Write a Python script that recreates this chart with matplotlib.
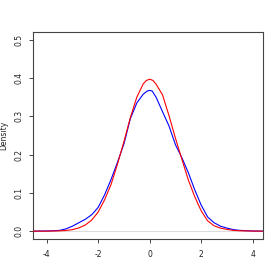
import matplotlib
matplotlib.use('Agg')
import matplotlib.pyplot as plt

# values
x_red = [-4.6, -4.0, -3.5, -3.25, -3.0, -2.75, -2.5, -2.25, -2.0, -1.75, -1.5, -1.25, -1.0,
         -0.75, -0.5, -0.25, -0.125, 0.0, 0.125, 0.25, 0.5, 0.75, 1.0, 1.25, 1.5, 1.75, 2.0,
         2.25, 2.5, 2.75, 3.0, 3.25, 3.5, 4.0, 4.5]
y_red = [0.0, 0.0001, 0.0008, 0.0018, 0.004, 0.0085, 0.016, 0.029, 0.050, 0.082, 0.122, 0.175, 0.234,
         0.297, 0.350, 0.385, 0.394, 0.397, 0.394, 0.384, 0.356, 0.302, 0.243, 0.188, 0.134, 0.090, 0.053,
         0.027, 0.014, 0.008, 0.0045, 0.002, 0.001, 0.0002, 0.0]

x_blue = [-4.6, -4.0, -3.75, -3.5, -3.25, -3.0, -2.75, -2.5, -2.25, -2.0, -1.75, -1.5, -1.25, -1.0,
          -0.75, -0.5, -0.25, -0.1, 0.0, 0.1, 0.25, 0.5, 0.75, 1.0, 1.25, 1.5, 1.75, 2.0,
          2.25, 2.5, 2.75, 3.0, 3.25, 3.5, 4.0, 4.5]
y_blue = [0.0, 0.0005, 0.001, 0.002, 0.006, 0.013, 0.022, 0.031, 0.043, 0.062, 0.095, 0.135, 0.180, 0.228,
          0.294, 0.335, 0.358, 0.366, 0.368, 0.366, 0.350, 0.312, 0.275, 0.226, 0.192, 0.153, 0.108, 0.068,
          0.037, 0.022, 0.013, 0.008, 0.004, 0.002, 0.0005, 0.0]

x_ticks = [-4, -2, 0, 2, 4]
y_ticks = [0.0, 0.1, 0.2, 0.3, 0.4, 0.5]

fig = plt.figure(figsize=(2.8, 2.8), dpi=100)
ax = fig.add_axes([33 / 280, 41 / 280, 230 / 280, 207 / 280])

ax.axhline(0, color='#dddddd', lw=0.8, zorder=1)
ax.plot(x_blue, y_blue, color='#0000ff', lw=0.8, zorder=2)
ax.plot(x_red, y_red, color='#ff0000', lw=0.8, zorder=3)

ax.set_xlim(-4.53, 4.4)
ax.set_ylim(-0.0205, 0.5205)
ax.set_xticks(x_ticks)
ax.set_xticklabels([str(v) for v in x_ticks])
ax.set_yticks(y_ticks)
ax.set_yticklabels(['%.1f' % v for v in y_ticks], rotation=90, va='center')
ax.tick_params(labelsize=5.5, length=3, width=0.7, color='#444444', labelcolor='#222222')
ax.tick_params(axis='x', pad=5)
ax.tick_params(axis='y', pad=4)
ax.set_ylabel('Density', fontsize=5.5, color='#222222', labelpad=4)

for s in ax.spines.values():
    s.set_color('#444444')
    s.set_linewidth(0.8)

plt.savefig('out.png', dpi=100)
